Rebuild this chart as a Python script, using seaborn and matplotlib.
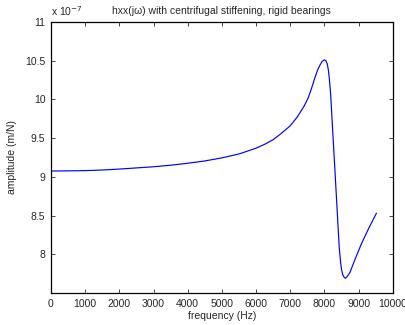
import numpy as np
import pandas as pd
import matplotlib
matplotlib.use("Agg")
import matplotlib.pyplot as plt
import seaborn as sns

# values (amplitude in units of 1e-7 m/N)
freq_hz = [0, 500, 1000, 1500, 2000, 2500, 3000, 3500, 4000, 4500, 5000, 5500,
           6000, 6250, 6500, 6750, 7000, 7200, 7400, 7525, 7620, 7720, 7800,
           7865, 7930, 8000, 8040, 8080, 8110, 8140, 8180, 8300, 8430, 8470,
           8500, 8540, 8580, 8610, 8660, 8740, 8890, 9085, 9300, 9520]
amplitude = [9.075, 9.077, 9.08, 9.088, 9.10, 9.115, 9.13, 9.15, 9.175, 9.205,
             9.245, 9.295, 9.37, 9.42, 9.48, 9.565, 9.66, 9.77, 9.91, 10.02,
             10.14, 10.28, 10.38, 10.44, 10.49, 10.51, 10.50, 10.46, 10.39,
             10.28, 10.07, 9.13, 8.10, 7.90, 7.80, 7.73, 7.70, 7.69, 7.71,
             7.76, 7.93, 8.14, 8.34, 8.53]
x_ticks = list(range(0, 10001, 1000))
y_ticks = [8, 8.5, 9, 9.5, 10, 10.5, 11]
y_ticklabels = ["8", "8.5", "9", "9.5", "10", "10.5", "11"]

df = pd.DataFrame({"frequency": freq_hz, "amplitude": amplitude})

sns.set_style("ticks")
plt.rcParams['font.family'] = ['Liberation Sans', 'DejaVu Sans']
plt.rcParams['xtick.direction'] = 'in'
plt.rcParams['ytick.direction'] = 'in'

fig = plt.figure(figsize=(4.06, 3.25), dpi=100)
ax = fig.add_axes([0.1256, 0.0985, 0.842, 0.834])

sns.lineplot(data=df, x="frequency", y="amplitude", color="#0000ff",
             linewidth=0.85, ax=ax)

ax.set_xlim(0, 10000)
ax.set_ylim(7.5, 11)
ax.set_xticks(x_ticks)
ax.set_yticks(y_ticks)
ax.set_yticklabels(y_ticklabels)
ax.tick_params(axis="both", labelsize=7.5, length=3, width=0.6,
               top=True, right=True, pad=4)
for s in ax.spines.values():
    s.set_linewidth(0.9)
    s.set_color("black")

ax.set_xlabel("frequency (Hz)", fontsize=7.5, labelpad=2)
ax.set_ylabel("amplitude (m/N)", fontsize=7.5, labelpad=6)
ax.set_title("hxx(j\u03c9) with centrifugal stiffening, rigid bearings",
             fontsize=7.5, pad=6)
ax.text(0.0, 1.015, "x 10$^{-7}$", transform=ax.transAxes, fontsize=7.5,
        ha="left", va="bottom")

fig.savefig("out.png", dpi=100)
